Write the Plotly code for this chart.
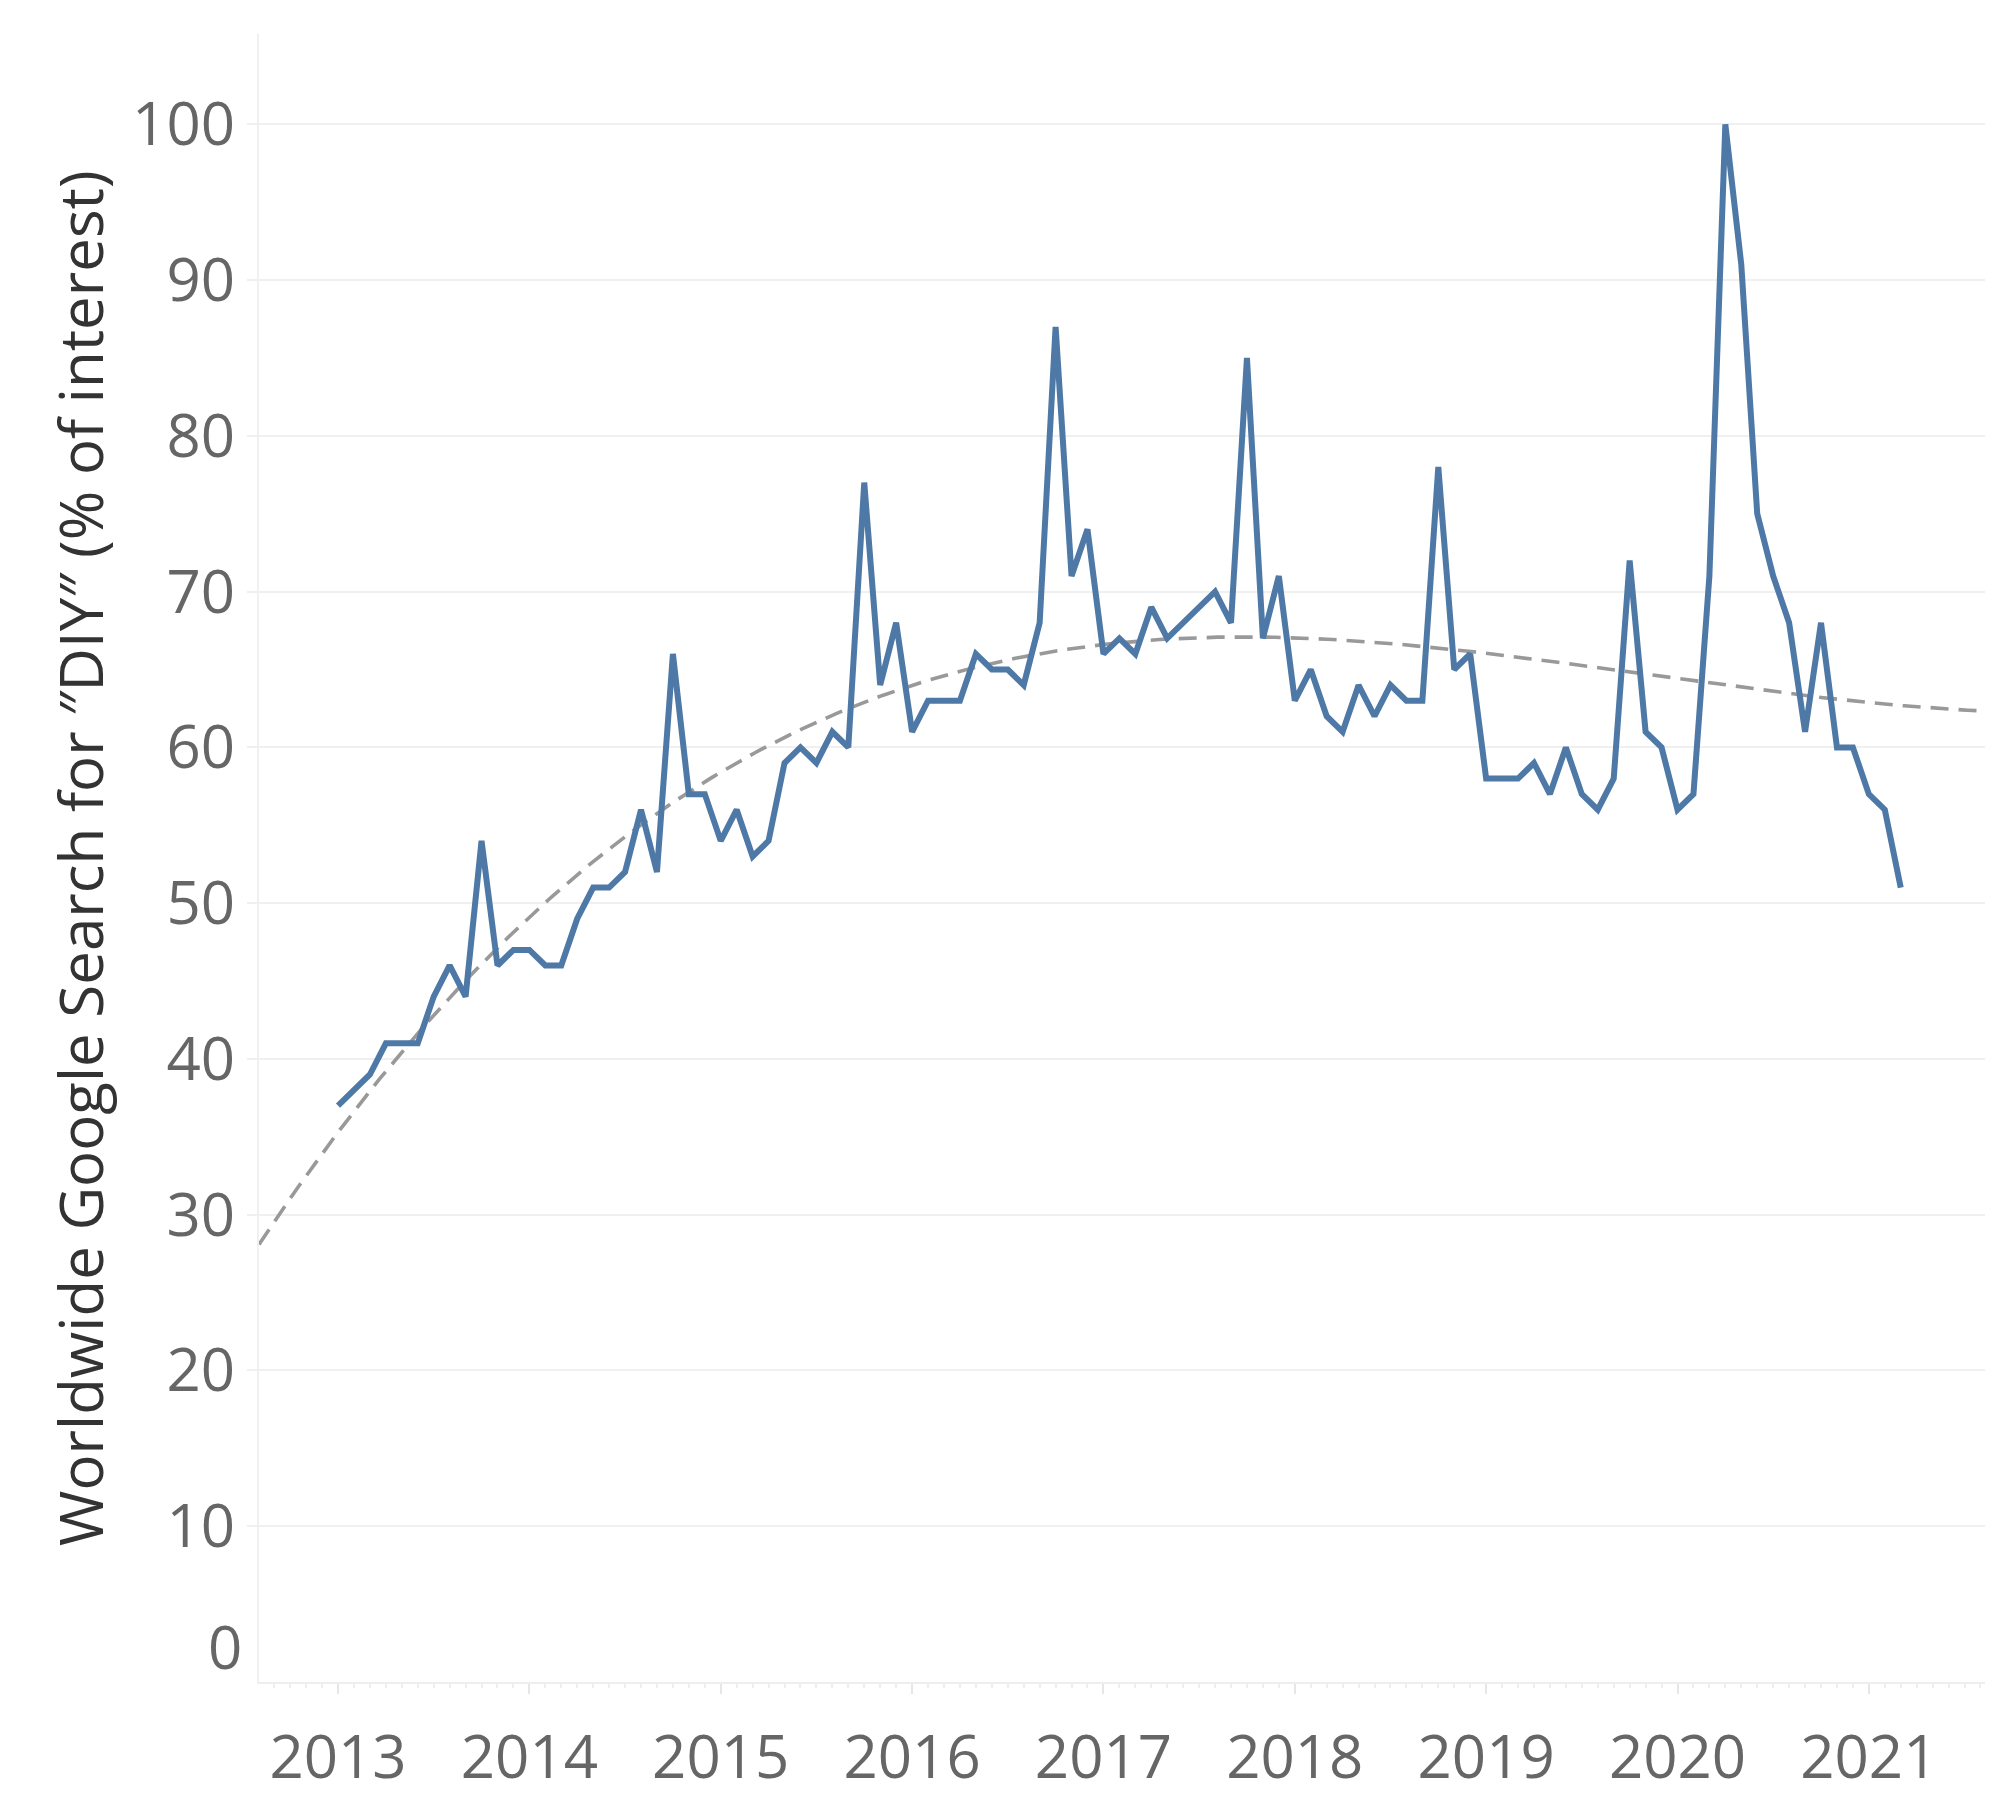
import numpy as np
import plotly.graph_objects as go

# ---- data (monthly Google Trends interest, Jan 2013 - Mar 2021) ----
years = [2013]*12 + [2014]*12 + [2015]*12 + [2016]*12 + [2017]*12 + [2018]*12 + [2019]*12 + [2020]*12 + [2021]*3
months = list(range(1, 13))*8 + [1, 2, 3]
interest = [
    37, 38, 39, 41, 41, 41, 44, 46, 44, 54, 46, 47,   # 2013
    47, 46, 46, 49, 51, 51, 52, 56, 52, 66, 57, 57,   # 2014
    54, 56, 53, 54, 59, 60, 59, 61, 60, 77, 64, 68,   # 2015
    61, 63, 63, 63, 66, 65, 65, 64, 68, 87, 71, 74,   # 2016
    66, 67, 66, 69, 67, 68, 69, 70, 68, 85, 67, 71,   # 2017
    63, 65, 62, 61, 64, 62, 64, 63, 63, 78, 65, 66,   # 2018
    58, 58, 58, 59, 57, 60, 57, 56, 58, 72, 61, 60,   # 2019
    56, 57, 71, 100, 91, 75, 71, 68, 61, 68, 60, 60,  # 2020
    57, 56, 51,                                       # 2021
]
year_ticks = [2013, 2014, 2015, 2016, 2017, 2018, 2019, 2020, 2021]
y_ticks = [10, 20, 30, 40, 50, 60, 70, 80, 90, 100]

x = np.array(years) + (np.array(months) - 1) / 12.0
y = np.array(interest, dtype=float)

X_RANGE = [2012.587, 2021.607]
Y_RANGE = [0, 105.8]

# cubic polynomial trend line over the full axis range
xc = x.mean()
coef = np.polyfit(x - xc, y, 3)
xt = np.linspace(X_RANGE[0], X_RANGE[1], 300)
yt = np.polyval(coef, xt - xc)

FONT = "Open Sans"
fig = go.Figure()
fig.add_trace(go.Scatter(x=xt, y=yt, mode="lines",
                         line=dict(color="#999999", width=3.6, dash="18px,10px"),
                         hoverinfo="skip", showlegend=False))
fig.add_trace(go.Scatter(x=x, y=y, mode="lines",
                         line=dict(color="#4e79a7", width=6),
                         showlegend=False))

fig.update_layout(
    width=2000, height=1800,
    margin=dict(l=251, r=23, t=26, b=106),
    plot_bgcolor="white", paper_bgcolor="white",
    font=dict(family=FONT, color="#666666"),
)
fig.update_xaxes(
    range=X_RANGE, tickvals=year_ticks, ticktext=[str(v) for v in year_ticks],
    showgrid=False, zeroline=False,
    showline=True, linecolor="#eeeeee", linewidth=2,
    ticks="outside", ticklen=10, tickcolor="#e6e6e6", tickwidth=2,
    minor=dict(dtick=1/12, tick0=2013, ticks="outside", ticklen=4, tickcolor="#eeeeee", tickwidth=2),
    tickfont=dict(size=60, color="#666666", family=FONT),
    ticklabelstandoff=12,
)
fig.update_yaxes(
    range=Y_RANGE, tickvals=y_ticks, ticktext=[str(v) for v in y_ticks],
    showgrid=True, gridcolor="#f0f0f0", gridwidth=2, zeroline=False,
    showline=True, linecolor="#f0f0f0", linewidth=2,
    ticks="outside", ticklen=10, tickcolor="#f0f0f0", tickwidth=2,
    tickfont=dict(size=60, color="#666666", family=FONT),
)
# zero label sits slightly above the baseline
fig.add_annotation(x=0, xref="paper", y=0, yref="y", text="0", showarrow=False,
                   xanchor="right", yanchor="middle", xshift=-15, yshift=36,
                   font=dict(size=60, color="#666666", family=FONT))
# y-axis title
fig.add_annotation(x=-179/1726, xref="paper", y=0.5, yref="paper",
                   text="Worldwide Google Search for ″DIY″ (% of interest)",
                   textangle=-90, showarrow=False, xanchor="center", yanchor="middle",
                   font=dict(size=60, color="#333333", family=FONT))

fig.write_html("out.html")
